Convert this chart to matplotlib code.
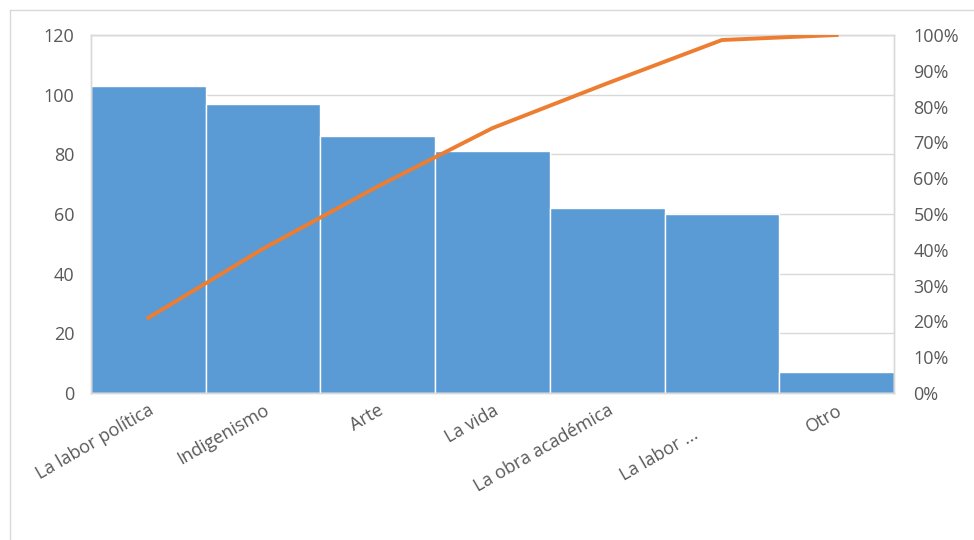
import matplotlib.pyplot as plt
from matplotlib.lines import Line2D
from matplotlib.transforms import ScaledTranslation

categories = ["La labor política", "Indigenismo", "Arte", "La vida",
              "La obra académica", "La labor ...", "Otro"]
counts = [103, 97, 86, 81, 62, 60, 7]
cumulative_pct = [21, 40.3, 57.7, 74, 86.5, 98.6, 100]

left_ticks = [0, 20, 40, 60, 80, 100, 120]
right_ticks = [0, 10, 20, 30, 40, 50, 60, 70, 80, 90, 100]

text_color = "#595959"
grid_color = "#D9D9D9"

plt.rcParams['font.family'] = ['Open Sans', 'DejaVu Sans']

fig = plt.figure(figsize=(9.74, 5.4), dpi=100)
ax = fig.add_axes([91 / 974, 1 - 393 / 540, (894 - 91) / 974, (393 - 35) / 540])

x = list(range(len(categories)))
ax.bar(x, counts, width=1.0, color="#5B9BD5", edgecolor="white", linewidth=1, zorder=2)
ax.set_xlim(-0.5, len(categories) - 0.5)
ax.set_ylim(0, 120)
ax.set_yticks(left_ticks)
ax.yaxis.grid(True, color=grid_color, linewidth=1, zorder=0)
ax.set_axisbelow(True)
ax.tick_params(axis='y', length=0, pad=12, labelsize=13, labelcolor=text_color)
ax.tick_params(axis='x', length=0, pad=6, labelsize=13, labelcolor=text_color)
ax.set_xticks(x)
ax.set_xticklabels(categories, rotation=30, ha='right', va='top', rotation_mode='anchor')
for s in ax.spines.values():
    s.set_color(grid_color)
    s.set_linewidth(1)

# the truncated label sits lower and to the left
lab = ax.get_xticklabels()[5]
lab.set_transform(lab.get_transform() + ScaledTranslation(-30 / 100, -24 / 100, fig.dpi_scale_trans))

ax2 = ax.twinx()
ax2.plot(x, cumulative_pct, color="#ED7D31", linewidth=2.8, zorder=3)
ax2.set_ylim(0, 100)
ax2.set_yticks(right_ticks)
ax2.set_yticklabels([f"{t}%" for t in right_ticks])
ax2.tick_params(axis='y', length=0, pad=14, labelsize=13, labelcolor=text_color)
for s in ax2.spines.values():
    s.set_color(grid_color)
    s.set_linewidth(1)

# outer chart border
fig.add_artist(Line2D([10 / 974, 10 / 974], [0, 1 - 10 / 540], transform=fig.transFigure,
                      color=grid_color, linewidth=1))
fig.add_artist(Line2D([10 / 974, 1], [1 - 10 / 540, 1 - 10 / 540], transform=fig.transFigure,
                      color=grid_color, linewidth=1))

fig.savefig("out.png", dpi=100)
